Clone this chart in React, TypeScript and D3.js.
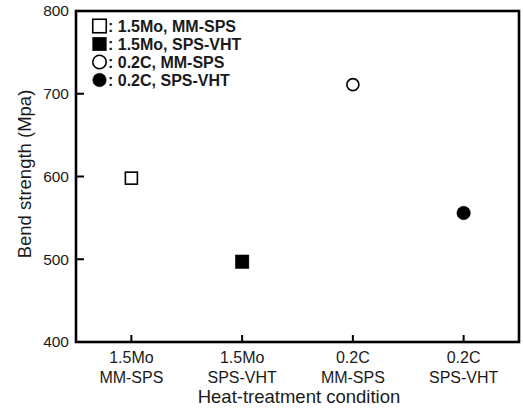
import React from "react";
import * as d3 from "d3";

const categories = ["1.5Mo\nMM-SPS", "1.5Mo\nSPS-VHT", "0.2C\nMM-SPS", "0.2C\nSPS-VHT"];
const seriesNames = [": 1.5Mo, MM-SPS", ": 1.5Mo, SPS-VHT", ": 0.2C, MM-SPS", ": 0.2C, SPS-VHT"];
const seriesShapes = ["square", "square", "circle", "circle"];
const seriesFilled = [false, true, false, true];
const seriesValues = [598, 497, 711, 556];
const yTicks = [400, 500, 600, 700, 800];

const W = 523, H = 411;
const M = { left: 76, right: 519, top: 11, bottom: 342 };

export default function App() {
  const x = d3.scaleLinear().domain([0.5, 4.5]).range([M.left, M.right]);
  const y = d3.scaleLinear().domain([400, 800]).range([M.bottom, M.top]);
  const font = "Arial, 'Liberation Sans', sans-serif";

  const marker = (shape: string, filled: boolean, cx: number, cy: number, key: string, size = 12) => {
    const fill = filled ? "#000" : "#fff";
    if (shape === "square") {
      return <rect key={key} x={cx - size / 2} y={cy - size / 2} width={size} height={size} fill={fill} stroke="#000" strokeWidth={filled ? 0.5 : 1.6} />;
    }
    return <circle key={key} cx={cx} cy={cy} r={size / 2} fill={fill} stroke="#000" strokeWidth={filled ? 0.5 : 1.6} />;
  };

  return (
    <svg width={W} height={H} style={{ position: "absolute", left: 0, top: 0, background: "#fff" }} fontFamily={font}>
      <rect x={0} y={0} width={W} height={H} fill="#fff" />
      <rect x={M.left} y={M.top} width={M.right - M.left} height={M.bottom - M.top} fill="none" stroke="#000" strokeWidth={2.6} />
      {yTicks.map((t) => (
        <g key={"y" + t}>
          <line x1={M.left} x2={M.left + 8} y1={y(t)} y2={y(t)} stroke="#000" strokeWidth={2} />
          <text x={M.left - 7} y={y(t)} dy="0.35em" textAnchor="end" fontSize={15.5} fill="#1a1a1a">{t}</text>
        </g>
      ))}
      {categories.map((c, i) => {
        const lines = c.split("\n");
        return (
          <g key={"x" + i}>
            <line x1={x(i + 1)} x2={x(i + 1)} y1={M.bottom} y2={M.bottom - 7} stroke="#000" strokeWidth={2} />
            {lines.map((l, j) => (
              <text key={j} x={x(i + 1)} y={357 + j * 20} dy="0.35em" textAnchor="middle" fontSize={16} fill="#1a1a1a">{l}</text>
            ))}
          </g>
        );
      })}
      <text x={299} y={397} dy="0.35em" textAnchor="middle" fontSize={18.5} fill="#1a1a1a">Heat-treatment condition</text>
      <text transform={`translate(25,174) rotate(-90)`} dy="0.35em" textAnchor="middle" fontSize={18.5} fill="#1a1a1a">Bend strength (Mpa)</text>
      {seriesValues.map((v, i) => marker(seriesShapes[i], seriesFilled[i], x(i + 1), y(v), "d" + i, seriesFilled[i] ? 13.5 : 12))}
      {seriesNames.map((n, i) => {
        const cy = 26 + i * 18;
        return (
          <g key={"l" + i}>
            {marker(seriesShapes[i], seriesFilled[i], 99.5, cy, "lm" + i, 13.5)}
            <text x={108} y={cy} dy="0.36em" fontSize={16} fontWeight="bold" fill="#1a1a1a">{n}</text>
          </g>
        );
      })}
    </svg>
  );
}
